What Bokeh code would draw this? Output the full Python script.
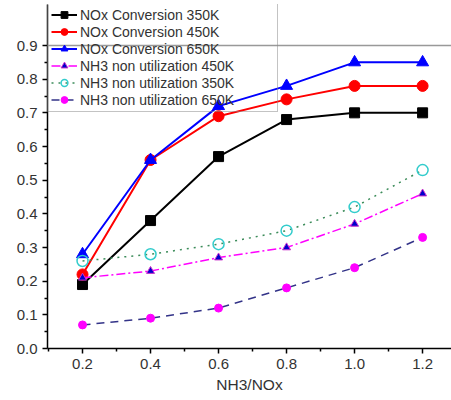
from bokeh.plotting import figure
from bokeh.models import Range1d, FixedTicker, NumeralTickFormatter, Legend, LegendItem, Span
from bokeh.embed import file_html
from bokeh.resources import INLINE

x = [0.2, 0.4, 0.6, 0.8, 1.0, 1.2]
nox_350 = [0.19, 0.38, 0.57, 0.68, 0.70, 0.70]
nox_450 = [0.22, 0.56, 0.69, 0.74, 0.78, 0.78]
nox_650 = [0.28, 0.56, 0.72, 0.78, 0.85, 0.85]
nh3_450 = [0.21, 0.23, 0.27, 0.30, 0.37, 0.46]
nh3_350 = [0.26, 0.28, 0.31, 0.35, 0.42, 0.53]
nh3_650 = [0.07, 0.09, 0.12, 0.18, 0.24, 0.33]
labels = ["NOx Conversion 350K", "NOx Conversion 450K", "NOx Conversion 650K",
          "NH3 non utilization 450K", "NH3 non utilization 350K", "NH3 non utilization 650K"]
x_ticks = [0.2, 0.4, 0.6, 0.8, 1.0, 1.2]
y_ticks = [0.0, 0.1, 0.2, 0.3, 0.4, 0.5, 0.6, 0.7, 0.8, 0.9]

FONT = "Liberation Sans"
TXT = "#333333"

p = figure(width=451, height=400, output_backend="svg", toolbar_location=None,
           x_range=Range1d(0.097, 1.285), y_range=Range1d(0, 1.0218),
           min_border_left=47, min_border_top=4, min_border_bottom=52, min_border_right=0)
p.background_fill_color = "white"
p.border_fill_color = "white"
p.outline_line_color = None
p.grid.visible = False

p.add_layout(Span(location=0.9, dimension="width", line_color="#999999", line_width=1.5))

p.xaxis.ticker = FixedTicker(ticks=x_ticks, minor_ticks=[0.1, 0.3, 0.5, 0.7, 0.9, 1.1])
p.yaxis.ticker = FixedTicker(ticks=y_ticks, minor_ticks=[0.05 + 0.1 * i for i in range(9)])
p.xaxis.formatter = NumeralTickFormatter(format="0.0")
p.yaxis.formatter = NumeralTickFormatter(format="0.0")
for ax in (p.xaxis[0], p.yaxis[0]):
    ax.axis_line_color = "black"
    ax.axis_line_width = 1.5
    ax.major_tick_line_color = "black"
    ax.minor_tick_line_color = "black"
    ax.major_tick_line_width = 1.5
    ax.minor_tick_line_width = 1.5
    ax.major_tick_in = 0
    ax.major_tick_out = 5
    ax.minor_tick_in = 0
    ax.minor_tick_out = 3
    ax.major_label_text_font = FONT
    ax.major_label_text_font_size = "15px"
    ax.major_label_text_color = TXT
    ax.major_label_standoff = 5
p.xaxis.axis_label = "NH3/NOx"
p.xaxis.axis_label_text_font = FONT
p.xaxis.axis_label_text_font_size = "15.5px"
p.xaxis.axis_label_text_font_style = "normal"
p.xaxis.axis_label_text_color = TXT
p.xaxis.axis_label_standoff = 4

items = []

l = p.line(x, nox_350, line_color="black", line_width=2)
s = p.scatter(x, nox_350, marker="square", size=10, fill_color="black", line_color="black")
items.append(LegendItem(label=labels[0], renderers=[l, s]))

l = p.line(x, nox_450, line_color="#FF0000", line_width=2)
s = p.scatter(x, nox_450, marker="circle", size=11, fill_color="#FF0000", line_color="#FF0000")
items.append(LegendItem(label=labels[1], renderers=[l, s]))

l = p.line(x, nox_650, line_color="#0000FF", line_width=2)
s = p.scatter(x, nox_650, marker="triangle", size=12, fill_color="#0000FF", line_color="#0000FF")
items.append(LegendItem(label=labels[2], renderers=[l, s]))

l = p.line(x, nh3_450, line_color="#FF00FF", line_width=1.5, line_dash="9 3 2 3")
s = p.scatter(x, nh3_450, marker="triangle", size=8, fill_color="#0000CC", line_color="#CC33CC")
items.append(LegendItem(label=labels[3], renderers=[l, s]))

l = p.line(x, nh3_350, line_color="#3C8C5A", line_width=1.5, line_dash="2 5")
s = p.scatter(x, nh3_350, marker="circle", size=11, fill_color=None, line_color="#33CCCC", line_width=1.5)
items.append(LegendItem(label=labels[4], renderers=[l, s]))

l = p.line(x, nh3_650, line_color="#333388", line_width=1.5, line_dash="8 6")
s = p.scatter(x, nh3_650, marker="circle", size=8, fill_color="#FF00FF", line_color="#FF00FF")
items.append(LegendItem(label=labels[5], renderers=[l, s]))

legend = Legend(items=items, location=(0, 236))
legend.label_text_font = FONT
legend.label_text_font_size = "14px"
legend.label_text_color = TXT
legend.label_height = 17
legend.glyph_height = 17
legend.glyph_width = 26
legend.label_standoff = 3
legend.label_width = 194
legend.spacing = 0
legend.padding = 3
legend.margin = 0
legend.border_line_color = "#888888"
legend.border_line_width = 1
legend.background_fill_alpha = 0
p.add_layout(legend, "center")

open("out.html", "w").write(file_html(p, INLINE))
